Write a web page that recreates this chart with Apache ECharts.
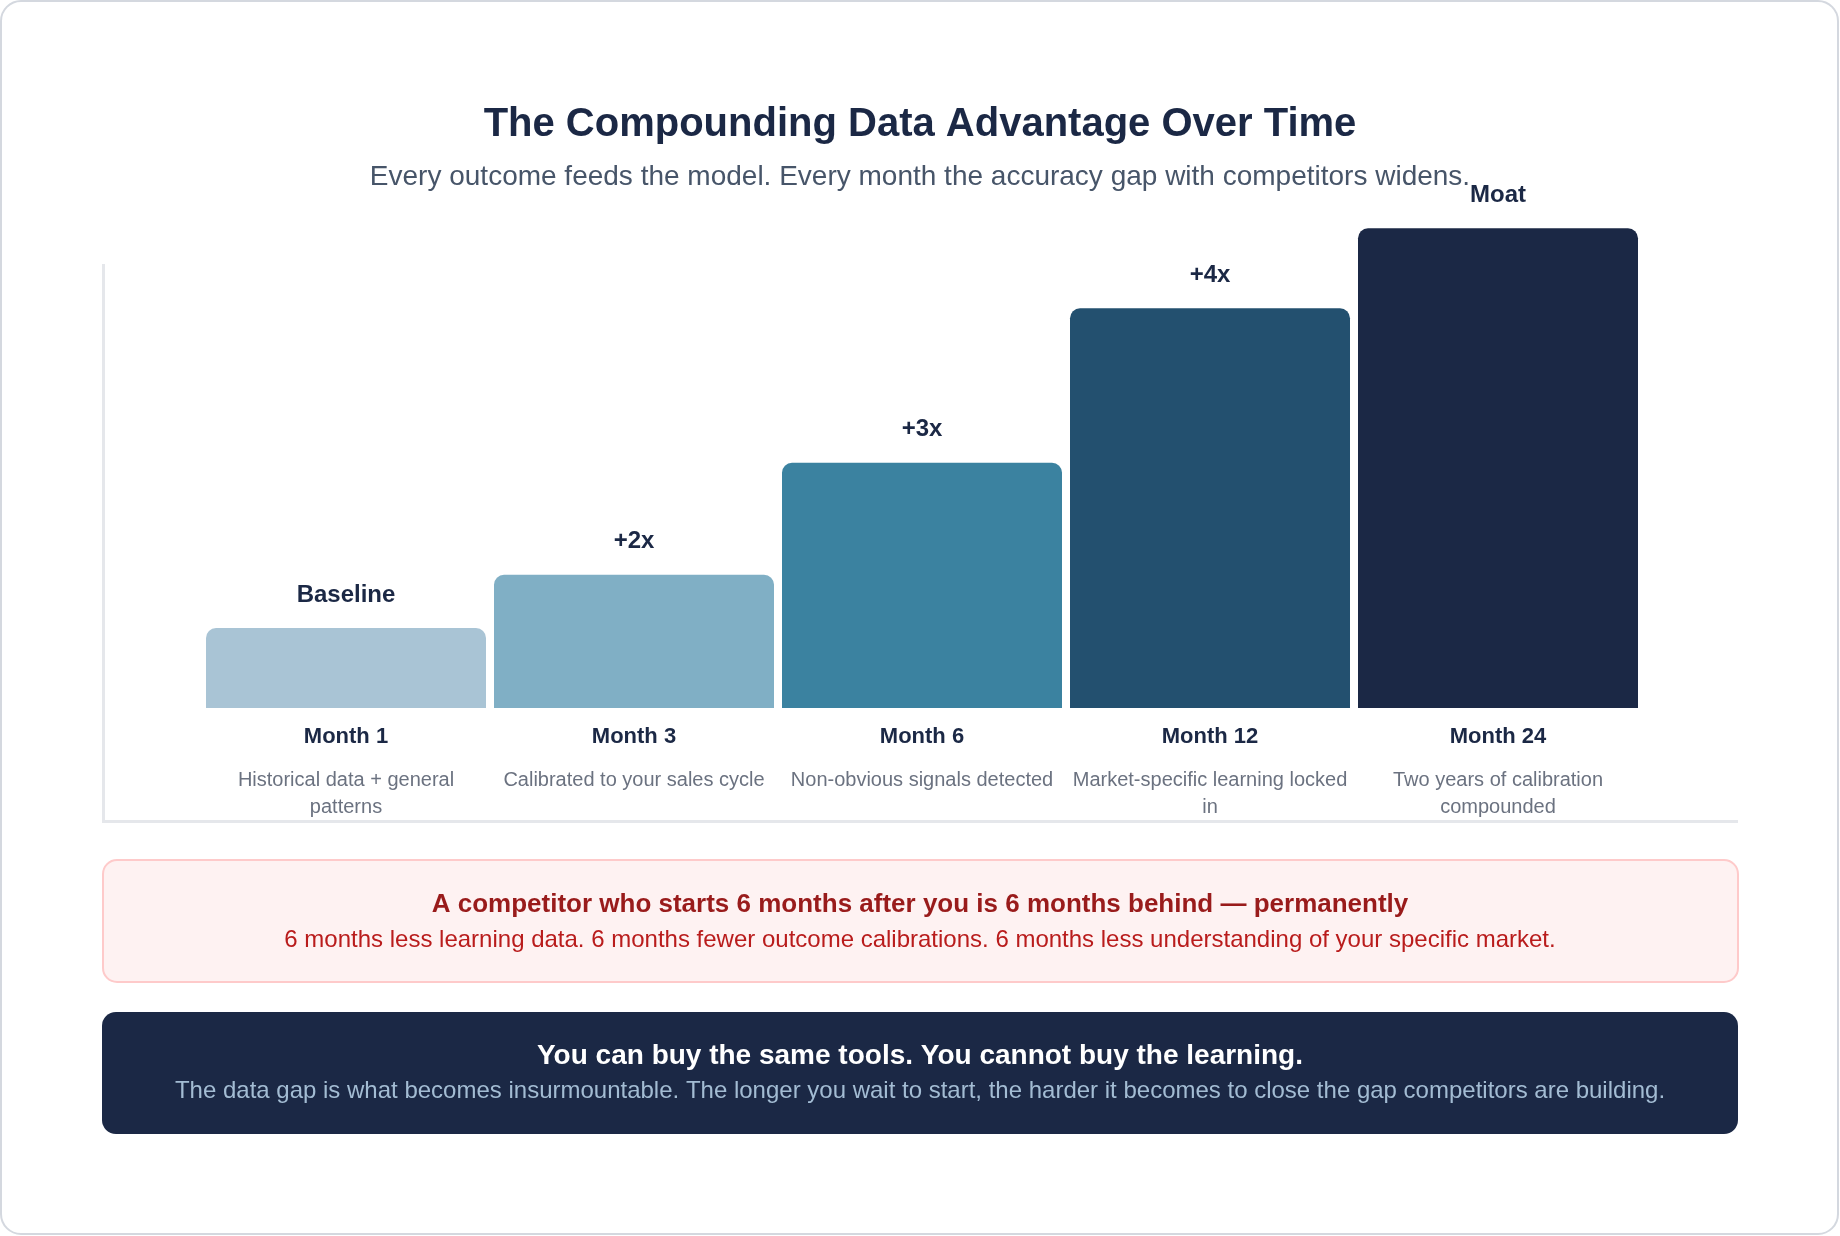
<!DOCTYPE html>
<html>
<head>
<meta charset="utf-8">
<script src="https://cdn.jsdelivr.net/npm/echarts@6/dist/echarts.min.js"></script>
<style>
  html, body { margin: 0; padding: 0; background: #ffffff; }
  .chart { width: 1840px; height: 1236px; }
</style>
</head>
<body>
<div class="chart"></div>
<script>
const FONT = '"Liberation Sans", Arial, sans-serif'

const months = ['Month 1', 'Month 3', 'Month 6', 'Month 12', 'Month 24']
const descriptions = [
  'Historical data + general\npatterns',
  'Calibrated to your sales cycle',
  'Non-obvious signals detected',
  'Market-specific learning locked\nin',
  'Two years of calibration\ncompounded'
]
const levels = [15, 25, 46, 75, 90]
const stageLabels = ['Baseline', '+2x', '+3x', '+4x', 'Moat']

const palette = ['#a9c4d5', '#80afc5', '#3b82a0', '#23506f', '#1b2845']

const titleText = 'The Compounding Data Advantage Over Time'
const subtitleText = 'Every outcome feeds the model. Every month the accuracy gap with competitors widens.'
const warnTitle = 'A competitor who starts 6 months after you is 6 months behind \u2014 permanently'
const warnText = '6 months less learning data. 6 months fewer outcome calibrations. 6 months less understanding of your specific market.'
const keyTitle = 'You can buy the same tools. You cannot buy the learning.'
const keyText = 'The data gap is what becomes insurmountable. The longer you wait to start, the harder it becomes to close the gap competitors are building.'

let myChart = echarts.init(document.querySelector('.chart'), null, { renderer: 'canvas' })

function boxText(text, y, size, weight, color) {
  return {
    type: 'text',
    x: 920,
    y: y,
    style: {
      text: text,
      fontFamily: FONT,
      fontSize: size,
      fontWeight: weight,
      fill: color,
      align: 'center',
      verticalAlign: 'middle'
    },
    z: 10
  }
}

myChart.setOption({
  animation: false,
  backgroundColor: '#ffffff',
  title: [
    {
      text: titleText,
      left: 'center',
      top: 96,
      textStyle: { fontFamily: FONT, fontSize: 40, fontWeight: 'bold', color: '#1b2845', lineHeight: 48 }
    },
    {
      text: subtitleText,
      left: 'center',
      top: 155,
      textStyle: { fontFamily: FONT, fontSize: 28, fontWeight: 'normal', color: '#475569', lineHeight: 34 }
    }
  ],
  grid: {
    left: 202,
    right: 198,
    top: 175,
    bottom: 528,
    outerBoundsMode: 'none'
  },
  xAxis: {
    type: 'category',
    data: months,
    axisLine: { show: false },
    axisTick: { show: false },
    splitLine: { show: false },
    axisLabel: {
      interval: 0,
      margin: 28.5,
      formatter: function (value, idx) {
        //月份加粗，说明文字逐行排版
        let lines = descriptions[idx].split('\n').map(t => '{d|' + t + '}')
        return '{m|' + value + '}\n' + lines.join('\n')
      },
      rich: {
        m: { fontFamily: FONT, fontSize: 22, fontWeight: 'bold', color: '#1b2845', lineHeight: 30, padding: [0, 0, 29, 0] },
        d: { fontFamily: FONT, fontSize: 20, color: '#6b7280', lineHeight: 27 }
      }
    }
  },
  yAxis: {
    type: 'value',
    min: 0,
    max: 100,
    show: false
  },
  series: [
    {
      type: 'bar',
      barWidth: 280,
      data: levels.map((v, i) => ({
        value: v,
        itemStyle: { color: palette[i], borderRadius: [10, 10, 0, 0] }
      })),
      label: {
        show: true,
        position: 'top',
        distance: 21,
        formatter: p => stageLabels[p.dataIndex],
        fontFamily: FONT,
        fontSize: 24,
        fontWeight: 'bold',
        color: '#1b2845'
      }
    }
  ],
  graphic: [
    // outer card
    {
      type: 'rect',
      shape: { x: 1, y: 1, width: 1837, height: 1233, r: 20 },
      style: { fill: 'none', stroke: '#d4d8df', lineWidth: 2 },
      z: -1
    },
    // chart frame (left + bottom border)
    {
      type: 'rect',
      shape: { x: 102, y: 264, width: 3, height: 559 },
      style: { fill: '#e5e7eb' },
      z: 1
    },
    {
      type: 'rect',
      shape: { x: 102, y: 820, width: 1636, height: 3 },
      style: { fill: '#e5e7eb' },
      z: 1
    },
    // warning callout
    {
      type: 'rect',
      shape: { x: 103, y: 860, width: 1635, height: 122, r: 14 },
      style: { fill: '#fef2f2', stroke: '#fecaca', lineWidth: 2 },
      z: 5
    },
    boxText(warnTitle, 905, 26, 'bold', '#991b1b'),
    boxText(warnText, 940, 24, 'normal', '#b91c1c'),
    // key message
    {
      type: 'rect',
      shape: { x: 102, y: 1012, width: 1636, height: 122, r: 14 },
      style: { fill: '#1b2845' },
      z: 5
    },
    boxText(keyTitle, 1056, 28, 'bold', '#ffffff'),
    boxText(keyText, 1091, 24, 'normal', '#a3bcd3')
  ]
})
</script>
</body>
</html>
